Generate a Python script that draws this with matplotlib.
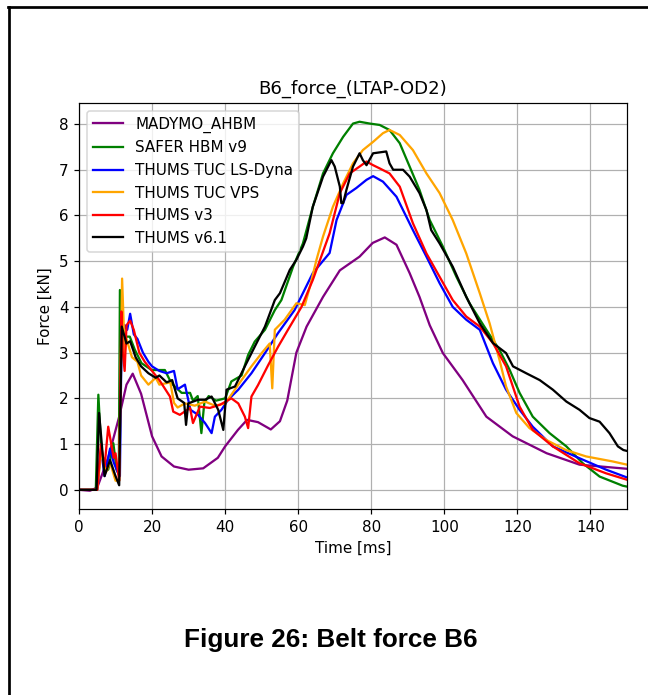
import numpy as np
import matplotlib.pyplot as plt
from matplotlib.lines import Line2D

# belt force B6 per model, time in ms, force in kN
t_madymo = [0, 3, 5, 8, 11, 13, 14.7, 17, 20, 22.6, 26, 30, 34, 38, 40, 43.5, 46, 49, 52.5, 55,
            57, 59.5, 62.3, 66.8, 71.4, 76.8, 80.4, 83.7, 86.9, 90.5, 93.2, 96, 99.6, 105, 111.5,
            118.7, 128, 137, 150]
f_madymo = [0, -0.02, 0.05, 0.7, 1.6, 2.3, 2.54, 2.1, 1.17, 0.73, 0.51, 0.44, 0.47, 0.7, 0.95, 1.31,
            1.53, 1.48, 1.32, 1.5, 1.95, 3.0, 3.57, 4.22, 4.8, 5.1, 5.4, 5.52, 5.36, 4.74, 4.22, 3.6,
            2.99, 2.4, 1.6, 1.17, 0.8, 0.55, 0.46]

t_safer = [0, 4.6, 5.3, 6.2, 8, 9.4, 10.3, 10.9, 11.2, 12.1, 13.9, 15.3, 17.1, 19.9, 23.5, 25.3, 28.1,
           30.4, 31.2, 32.5, 33.5, 34.3, 35.5, 37.5, 40, 41.7, 44.5, 46.3, 48.1, 50.9, 53.6, 55.4,
           58.6, 61.3, 64, 66.8, 69.5, 72.3, 75, 76.8, 79.6, 82.3, 85, 87.8, 90.5, 93.2, 96, 99.6,
           103.3, 106.9, 111.5, 115.1, 117.9, 120.6, 124.2, 128.8, 133.4, 137.9, 142.5, 148.8, 150]
f_safer = [0, 0, 2.08, 0.73, 0.44, 1.02, 0.44, 0.35, 4.37, 3.35, 3.35, 3.06, 2.77, 2.62, 2.62, 2.33,
           2.12, 2.12, 1.95, 2.05, 1.24, 1.9, 2.05, 1.95, 2.0, 2.37, 2.5, 2.95, 3.24, 3.5, 3.93, 4.15,
           4.88, 5.39, 6.19, 6.92, 7.36, 7.72, 8.01, 8.05, 8.01, 7.98, 7.87, 7.58, 7.07, 6.56, 5.9,
           5.32, 4.66, 4.08, 3.5, 3.06, 2.62, 2.12, 1.6, 1.24, 0.95, 0.58, 0.29, 0.09, 0.07]

t_lsdyna = [0, 5, 6, 7, 8.5, 9.5, 10.5, 11.2, 11.6, 12.5, 13.2, 14, 15, 16, 17.5, 19, 20, 22, 24,
            26, 27, 29, 30.5, 32.6, 34.5, 36.3, 37.2, 39, 40.8, 43.6, 47.2, 50.9, 54.5, 59, 64,
            68.6, 70.5, 73.2, 75.9, 78.7, 80.5, 83.2, 86.9, 91.4, 95.1, 98.7, 102.3, 106, 109.7,
            113.3, 116.9, 120.6, 124.2, 129.7, 137, 144.3, 150]
f_lsdyna = [0, 0, 0.9, 0.3, 0.9, 0.6, 0.4, 0.3, 3.0, 3.6, 3.5, 3.85, 3.4, 3.3, 3.0, 2.8, 2.7, 2.6,
            2.55, 2.6, 2.2, 2.3, 1.75, 1.64, 1.46, 1.24, 1.6, 1.75, 1.97, 2.19, 2.55, 2.99, 3.43, 3.93,
            4.74, 5.18, 5.9, 6.45, 6.6, 6.78, 6.86, 6.74, 6.41, 5.68, 5.1, 4.52, 4.0, 3.72, 3.5, 2.77,
            2.19, 1.75, 1.38, 0.95, 0.69, 0.44, 0.27]

t_vps = [0, 5, 6, 7.5, 8.5, 10, 11, 11.8, 12.5, 13, 14.5, 16, 17, 18, 19, 21, 22, 25, 26, 27, 29,
         31.7, 34.5, 37.2, 40, 41.7, 44.5, 47.2, 50, 52.2, 52.9, 53.6, 56.3, 59.5, 61.8, 63.2, 65,
         66.8, 69.5, 72.3, 75, 77.7, 80.5, 83.2, 85, 87.8, 91.4, 95.1, 98.7, 102.3, 106, 109.7,
         112.4, 115.1, 116.9, 119.7, 123.3, 127.9, 133.3, 138.8, 146.1, 150]
f_vps = [0, 0, 0.8, 0.4, 0.6, 0.2, 0.2, 4.62, 3.0, 3.3, 2.9, 2.8, 2.5, 2.4, 2.3, 2.45, 2.3, 2.35, 1.9,
         1.8, 1.89, 1.84, 1.93, 1.84, 1.89, 2.08, 2.4, 2.7, 2.99, 3.2, 2.22, 3.5, 3.72, 4.08, 4.04,
         4.44, 5.03, 5.54, 6.19, 6.7, 7.14, 7.43, 7.61, 7.8, 7.87, 7.76, 7.43, 6.92, 6.49, 5.9, 5.17,
         4.3, 3.64, 2.84, 2.26, 1.68, 1.35, 1.09, 0.87, 0.73, 0.62, 0.55]

t_v3 = [0, 5, 6, 7, 8, 9.5, 10, 11, 11.6, 12, 12.5, 13, 14, 15, 16.5, 18, 20, 22, 24.9, 25.8, 27.6,
        30.4, 31.2, 33.1, 35.8, 38.6, 41.7, 43.6, 45.4, 46.3, 47.2, 49, 51.8, 54.5, 57.2, 60.9, 64,
        68.6, 71.4, 74.1, 76.8, 78.7, 80.5, 82.3, 85, 87.8, 91.4, 95.1, 98.7, 102.3, 106, 109.7,
        113.3, 116.9, 120.6, 124.2, 129.7, 137, 144.3, 150]
f_v3 = [0, 0, 1.0, 0.5, 1.38, 0.7, 0.8, 0.2, 3.9, 3.0, 2.6, 3.6, 3.7, 3.5, 3.0, 2.8, 2.6, 2.4, 2.04,
        1.71, 1.64, 1.79, 1.46, 1.82, 1.79, 1.86, 2.0, 1.89, 1.6, 1.35, 2.04, 2.29, 2.73, 3.13, 3.5,
        4.0, 4.59, 5.61, 6.49, 6.92, 7.07, 7.18, 7.1, 7.03, 6.92, 6.63, 5.83, 5.17, 4.66, 4.15, 3.79,
        3.57, 3.21, 2.7, 1.82, 1.31, 0.95, 0.58, 0.36, 0.22]

t_v61 = [0, 4.8, 5.5, 7, 8.5, 10, 11, 11.7, 13, 14, 15.5, 17, 19, 21, 22, 24, 25.5, 27, 28.8,
         29.3, 29.9, 32.6, 34.5, 36.3, 38.1, 39.5, 40.4, 42.7, 45.4, 48.1, 50.9, 53.6, 55, 57.7,
         59.5, 61.3, 62.2, 64, 66.8, 69.1, 70, 71.4, 71.8, 72.3, 73.2, 75, 76.8, 77.7, 78.7, 80.5,
         84.1, 85, 86, 88.7, 90.5, 93.2, 95.1, 96.4, 98.7, 102.3, 106, 109.7, 113.3, 116.9, 118.8,
         122.4, 126.1, 129.7, 133.4, 137, 139.7, 142.5, 145.2, 147.5, 149, 150]
f_v61 = [0, 0, 1.68, 0.3, 0.65, 0.3, 0.1, 3.57, 3.2, 3.25, 2.9, 2.7, 2.55, 2.45, 2.5, 2.35, 2.4, 2.0,
         1.9, 1.42, 1.89, 1.97, 1.97, 2.04, 1.75, 1.31, 2.19, 2.26, 2.7, 3.13, 3.57, 4.15, 4.3, 4.81,
         5.03, 5.32, 5.5, 6.19, 6.85, 7.21, 7.07, 6.63, 6.27, 6.27, 6.56, 7.07, 7.36, 7.21, 7.1, 7.36,
         7.4, 7.14, 7.0, 7.0, 6.85, 6.49, 6.12, 5.68, 5.39, 4.88, 4.22, 3.64, 3.21, 2.99, 2.7, 2.55,
         2.4, 2.19, 1.93, 1.75, 1.57, 1.49, 1.24, 0.95, 0.87, 0.85]

series = [
    ('MADYMO_AHBM', t_madymo, f_madymo, 'purple'),
    ('SAFER HBM v9', t_safer, f_safer, 'green'),
    ('THUMS TUC LS-Dyna', t_lsdyna, f_lsdyna, 'blue'),
    ('THUMS TUC VPS', t_vps, f_vps, 'orange'),
    ('THUMS v3', t_v3, f_v3, 'red'),
    ('THUMS v6.1', t_v61, f_v61, 'black'),
]

dpi = 109
fig = plt.figure(figsize=(648 / dpi, 695 / dpi), dpi=dpi)
ax = fig.add_axes([0.1219, 0.2676, 0.8457, 0.5842])

for name, t, f, col in series:
    ax.plot(t, f, color=col, label=name, lw=1.5)

ax.set_xlim(0, 150)
ax.set_ylim(-0.42, 8.46)
ax.grid(True)
ax.set_title('B6_force_(LTAP-OD2)')
ax.set_xlabel('Time [ms]')
ax.set_ylabel('Force [kN]')
ax.legend(loc='upper left')

# page frame and caption
fig.add_artist(Line2D([8 / 648, 1], [1 - 7 / 695, 1 - 7 / 695], color='black', lw=1.8))
fig.add_artist(Line2D([9 / 648, 9 / 648], [0, 1 - 7 / 695], color='black', lw=1.8))
fig.text(0.511, 1 - 640 / 695, 'Figure 26: Belt force B6', ha='center', va='center',
         fontsize=17.3, fontweight='bold', family='Liberation Sans')

plt.savefig('out.png', dpi=dpi)
